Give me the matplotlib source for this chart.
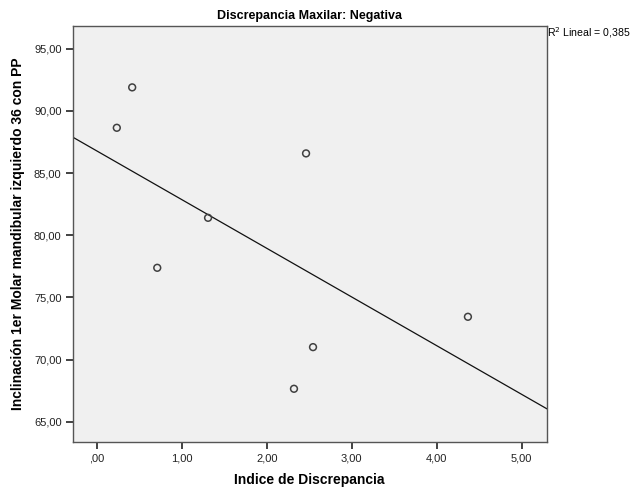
import numpy as np
import matplotlib
matplotlib.use("Agg")
import matplotlib.pyplot as plt
from matplotlib.ticker import FuncFormatter

indice = [0.417, 0.236, 1.310, 0.712, 2.463, 4.368, 2.545, 2.321]
inclinacion = [91.89, 88.64, 81.40, 77.38, 86.58, 73.44, 71.00, 67.65]
x_ticks = [0, 1, 2, 3, 4, 5]
y_ticks = [65, 70, 75, 80, 85, 90, 95]
r2_text = "R$^2$ Lineal = 0,385"

plt.rcParams['font.family'] = ['Liberation Sans', 'DejaVu Sans']

W, H = 635, 491
L, R, T, B = 72.7, 546.7, 25.7, 442.0
fig = plt.figure(figsize=(W/100, H/100), dpi=100)
ax = fig.add_axes([L/W, 1-B/H, (R-L)/W, (B-T)/H])
ax.set_facecolor('#F0F0F0')

xlim = (-0.283, 5.295)
ylim = (63.37, 96.85)
ax.set_xlim(*xlim)
ax.set_ylim(*ylim)

ax.scatter(indice, inclinacion, s=24, facecolors='none', edgecolors='#404040', linewidths=1.1, zorder=3)

slope, intercept = np.polyfit(indice, inclinacion, 1)
xs = np.array(xlim)
ax.plot(xs, intercept + slope * xs, color='#111111', linewidth=0.9, zorder=2)

def fmt(v, pos):
    s = f"{v:.2f}".replace('.', ',')
    if s.startswith('0,'):
        s = s[1:]
    return s

ax.set_xticks(x_ticks)
ax.set_yticks(y_ticks)
ax.xaxis.set_major_formatter(FuncFormatter(fmt))
ax.yaxis.set_major_formatter(FuncFormatter(fmt))
ax.tick_params(direction='out', length=5, width=1.2, labelsize=8, colors='#222222', pad=3)
for sp in ax.spines.values():
    sp.set_color('#555555')
    sp.set_linewidth(1.0)

ax.set_xlabel('Indice de Discrepancia', fontsize=10, fontweight='bold', va='center')
ax.xaxis.set_label_coords(0.5, (B-480)/(B-T))
ax.set_ylabel('Inclinación 1er Molar mandibular izquierdo 36 con PP', fontsize=10, fontweight='bold', va='center')
ax.yaxis.set_label_coords((18-L)/(R-L), 0.5)
ax.set_title('Discrepancia Maxilar: Negativa', fontsize=9, fontweight='bold', pad=5)

fig.text(547/W, 1-33/H, r2_text, fontsize=7.6, ha='left', va='center')

fig.savefig('out.png', dpi=100)
